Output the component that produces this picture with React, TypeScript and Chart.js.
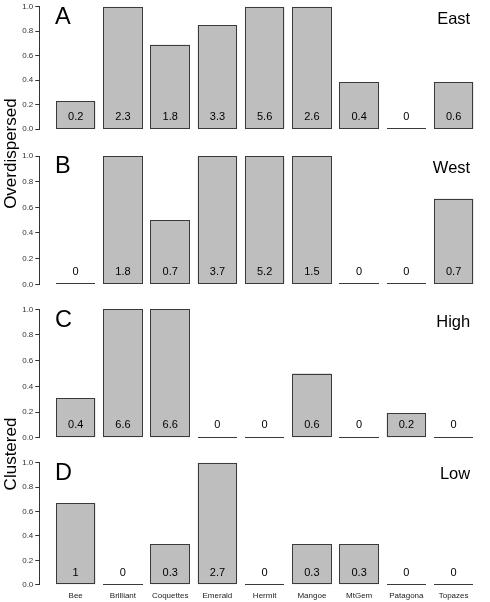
import React, { useEffect, useRef } from 'react';
import { Chart, registerables } from 'chart.js';

Chart.register(...registerables);

const categories = ['Bee', 'Brilliant', 'Coquettes', 'Emerald', 'Hermit', 'Mangoe', 'MtGem', 'Patagona', 'Topazes'];

const eastValues = [0.23, 1, 0.69, 0.85, 1, 1, 0.385, 0, 0.385];
const eastLabels = ['0.2', '2.3', '1.8', '3.3', '5.6', '2.6', '0.4', '0', '0.6'];
const westValues = [0, 1, 0.5, 1, 1, 1, 0, 0, 0.667];
const westLabels = ['0', '1.8', '0.7', '3.7', '5.2', '1.5', '0', '0', '0.7'];
const highValues = [0.31, 1, 1, 0, 0, 0.5, 0, 0.19, 0];
const highLabels = ['0.4', '6.6', '6.6', '0', '0', '0.6', '0', '0.2', '0'];
const lowValues = [0.667, 0, 0.333, 1, 0, 0.333, 0.333, 0, 0];
const lowLabels = ['1', '0', '0.3', '2.7', '0', '0.3', '0.3', '0', '0'];

const panelLetters = ['A', 'B', 'C', 'D'];
const panelTitles = ['East', 'West', 'High', 'Low'];
const groupTitles = ['Overdispersed', 'Clustered'];
const yTicks = [0, 0.2, 0.4, 0.6, 0.8, 1.0];

// layout (R barplot style: width 1, space 0.2)
const W = 490;
const H = 602;
const SPACE = 0.2;
const X_MIN = -0.224;
const X_MAX = 11.224;
const AXIS_LEFT = 39.3;
const LABEL_LEVEL = 0.1;
const FONT = "'Liberation Sans', Arial, Helvetica, sans-serif";
const BAR_FILL = '#BEBEBE';
const BAR_EDGE = '#3a3a3a';

const barX = (i: number) => SPACE + i * (1 + SPACE) + 0.5;

const panels = [
  { values: eastValues, labels: eastLabels, top: 6, bottom: 146, group: 0, groupCenter: 153.6 },
  { values: westValues, labels: westLabels, top: 156, bottom: 301.3, group: -1, groupCenter: 0 },
  { values: highValues, labels: highLabels, top: 309.3, bottom: 454.7, group: 1, groupCenter: 454 },
  { values: lowValues, labels: lowLabels, top: 462.7, bottom: 584.7, group: -1, groupCenter: 0 },
];

const X_AXIS_HEIGHT = 17;

function makePlugin(idx: number) {
  const p = panels[idx];
  return {
    id: 'panelDeco' + idx,
    afterDatasetsDraw(chart: any) {
      const ctx = chart.ctx;
      const meta = chart.getDatasetMeta(0);
      const ys = chart.scales.y;
      const xs = chart.scales.x;
      ctx.save();
      ctx.strokeStyle = BAR_EDGE;
      ctx.lineWidth = 1;
      meta.data.forEach((bar: any, i: number) => {
        const { x, y, base, width } = bar.getProps(['x', 'y', 'base', 'width'], true);
        const L = Math.round(x - width / 2);
        const R = Math.round(x + width / 2);
        const B = Math.round(base);
        if (p.values[i] === 0) {
          // zero-height bar drawn as a line
          ctx.beginPath();
          ctx.moveTo(L, B - 0.5);
          ctx.lineTo(R, B - 0.5);
          ctx.stroke();
        } else {
          const T = Math.round(y);
          ctx.strokeRect(L + 0.5, T + 0.5, R - L - 1, B - T - 1);
        }
      });
      // value labels
      ctx.fillStyle = '#000';
      ctx.font = `11px ${FONT}`;
      ctx.textAlign = 'center';
      ctx.textBaseline = 'middle';
      meta.data.forEach((bar: any, i: number) => {
        ctx.fillText(p.labels[i], bar.x, ys.getPixelForValue(LABEL_LEVEL));
      });
      // panel letter
      ctx.font = `23.5px ${FONT}`;
      ctx.textAlign = 'left';
      ctx.fillText(panelLetters[idx], xs.getPixelForValue(SPACE) - 1, ys.getPixelForValue(0.915));
      // panel title
      ctx.font = `16.5px ${FONT}`;
      ctx.textAlign = 'right';
      ctx.fillText(panelTitles[idx], xs.getPixelForValue(10.72), ys.getPixelForValue(0.9));
      // group title
      if (p.group >= 0) {
        ctx.font = `17px ${FONT}`;
        ctx.textAlign = 'center';
        ctx.translate(11, p.groupCenter);
        ctx.rotate(-Math.PI / 2);
        ctx.fillText(groupTitles[p.group], 0, 0);
      }
      ctx.restore();
    },
  };
}

function Panel({ idx }: { idx: number }) {
  const ref = useRef<HTMLCanvasElement>(null);
  useEffect(() => {
    const p = panels[idx];
    const showX = idx === 3;
    const chart = new Chart(ref.current as HTMLCanvasElement, {
      type: 'bar',
      data: {
        datasets: [
          {
            data: p.values.map((v, i) => ({ x: barX(i), y: v })),
            backgroundColor: BAR_FILL,
            borderWidth: 0,
            borderSkipped: false,
            barPercentage: 1 / (1 + SPACE),
            categoryPercentage: 1,
          } as any,
        ],
      },
      options: {
        responsive: false,
        animation: false,
        events: [],
        layout: {
          padding: {
            top: p.top,
            bottom: showX ? H - p.bottom - X_AXIS_HEIGHT : H - p.bottom,
            left: 0,
            right: 0,
          },
        },
        plugins: { legend: { display: false }, tooltip: { enabled: false } },
        scales: {
          x: {
            type: 'linear',
            min: X_MIN,
            max: X_MAX,
            offset: false,
            display: showX,
            afterBuildTicks: (s: any) => {
              s.ticks = categories.map((_, i) => ({ value: barX(i) }));
            },
            afterFit: (s: any) => {
              s.height = X_AXIS_HEIGHT;
            },
            grid: { display: false, drawTicks: false, offset: false },
            border: { display: false },
            ticks: {
              autoSkip: false,
              maxRotation: 0,
              minRotation: 0,
              padding: 6,
              color: '#222',
              font: { size: 8, family: FONT },
              callback: (_v: any, i: number) => categories[i],
            },
          },
          y: {
            type: 'linear',
            min: 0,
            max: 1,
            afterBuildTicks: (s: any) => {
              s.ticks = yTicks.map((v) => ({ value: v }));
            },
            afterFit: (s: any) => {
              s.width = AXIS_LEFT;
            },
            grid: { drawOnChartArea: false, drawTicks: true, tickLength: 4, color: '#333', lineWidth: 1 },
            border: { display: true, color: '#333', width: 1 },
            ticks: {
              padding: 2,
              color: '#333',
              font: { size: 8, family: FONT },
              callback: (v: any) => Number(v).toFixed(1),
            },
          },
        },
      },
      plugins: [makePlugin(idx)],
    });
    return () => chart.destroy();
  }, [idx]);
  return (
    <canvas
      ref={ref}
      width={W}
      height={H}
      style={{ position: 'absolute', left: 0, top: 0, width: W, height: H }}
    />
  );
}

export default function App() {
  return (
    <div style={{ position: 'absolute', left: 0, top: 0, width: W, height: H, background: '#fff' }}>
      {panels.map((_, i) => (
        <Panel key={i} idx={i} />
      ))}
    </div>
  );
}
